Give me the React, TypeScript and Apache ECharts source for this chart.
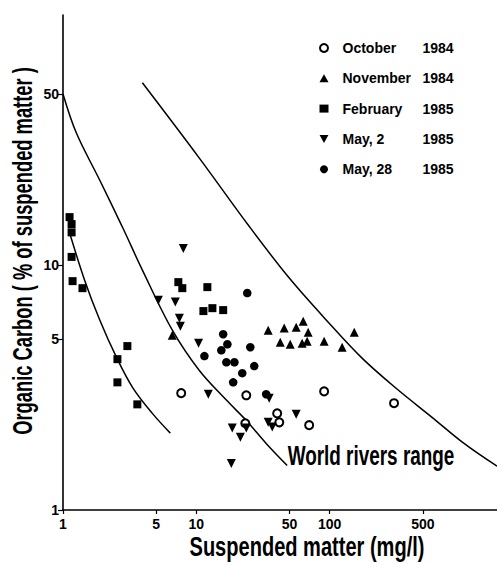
import React, { useEffect, useRef } from "react";
import * as echarts from "echarts";

// Tick labels
const xTickValues = [1, 5, 10, 50, 100, 500];
const yTickValues = [1, 5, 10, 50];

// Series (suspended matter mg/l, organic carbon %)
const october1984 = [[7.7, 3.0], [23.7, 2.94], [23.3, 2.26], [90.9, 3.05], [40.4, 2.48], [41.9, 2.28], [70.2, 2.22], [304, 2.73]];
const november1984 = [[6.6, 5.17], [34.6, 5.42], [45.6, 5.53], [56.1, 5.57], [63.3, 5.9], [69, 5.32], [42.6, 4.84], [50.6, 4.75], [62.2, 4.8], [67.8, 4.89], [90.9, 4.89], [124, 4.62], [153, 5.32]];
const february1985 = [[1.12, 15.7], [1.16, 14.7], [1.16, 13.6], [1.16, 10.8], [1.18, 8.6], [1.4, 8.05], [3.04, 4.67], [2.56, 4.13], [2.56, 3.32], [3.61, 2.7], [7.33, 8.52], [7.85, 8.05], [12.1, 8.13], [11.3, 6.49], [13.2, 6.67], [15.9, 6.55]];
const may2_1985 = [[7.99, 11.7], [5.19, 7.19], [6.96, 7.06], [7.46, 6.07], [7.59, 5.63], [10.4, 4.8], [12.3, 2.97], [18.6, 2.16], [21.4, 1.98], [23.7, 2.16], [18.3, 1.55], [35.2, 2.86], [34.6, 2.28], [37.1, 2.18], [56.1, 2.46]];
const may28_1985 = [[24.1, 7.69], [15.9, 5.22], [17.1, 4.75], [15.4, 4.49], [25.4, 4.62], [11.5, 4.25], [16.8, 4.01], [19.3, 4.01], [27.2, 3.87], [22.1, 3.62], [18.9, 3.32], [33.4, 2.97]];

// World rivers range envelope curves
const curveInner = [[1.1, 14], [1.45, 8.7], [1.88, 6.0], [2.52, 4.2], [3.32, 3.17], [4.68, 2.48], [6.38, 2.06]];
const curveMiddle = [[1, 50], [1.26, 34.6], [1.88, 22.3], [2.79, 14.3], [3.94, 9.54], [6.61, 5.42], [10.5, 3.72], [16.8, 2.81], [23.7, 2.32], [33.4, 1.87], [48, 1.52]];
const curveOuter = [[3.94, 55.5], [10.5, 27.4], [24.9, 14.4], [49.8, 8.85], [99.2, 5.79], [175, 4.17], [315, 3.14], [586, 2.39], [1018, 1.87], [1800, 1.51]];

const seriesNames = ["October 1984", "November 1984", "February 1985", "May, 2 1985", "May, 28 1985"];

const yTitle = "Organic Carbon ( % of suspended matter )";
const xTitle = "Suspended matter (mg/l)";
const rangeLabel = "World rivers range";

const FONT = '"Liberation Sans", Arial, Helvetica, sans-serif';
const TITLE_FONT = 'bold 28px "Liberation Sans", Arial, sans-serif';

function measure(text: string, font: string): number {
  const c = document.createElement("canvas");
  const ctx = c.getContext("2d");
  if (!ctx) return text.length * 14;
  ctx.font = font;
  return ctx.measureText(text).width;
}

export default function App() {
  const ref = useRef<HTMLDivElement>(null);

  useEffect(() => {
    if (!ref.current) return;
    const chart = echarts.init(ref.current, undefined, { renderer: "svg" });

    const sY = 368 / measure(yTitle, TITLE_FONT);
    const sX = 235 / measure(xTitle, TITLE_FONT);
    const sW = 167 / measure(rangeLabel, TITLE_FONT);

    const black = "#000";
    const scatterBase = (name: string, data: number[][], symbol: string, size: number, extra: any = {}) => ({
      name,
      type: "scatter",
      data,
      symbol,
      symbolSize: size,
      itemStyle: { color: black, opacity: 1, ...extra },
      emphasis: { disabled: true },
      z: 3,
    });
    const curve = (data: number[][]) => ({
      type: "line",
      data,
      symbol: "none",
      smooth: 0.35,
      lineStyle: { color: black, width: 1.5 },
      emphasis: { disabled: true },
      silent: true,
      z: 2,
    });

    const labelStyle = { color: black, fontFamily: FONT, fontWeight: "bold", fontSize: 14 };

    chart.setOption({
      animation: false,
      backgroundColor: "#fff",
      grid: { left: 63, right: 0, top: 15, bottom: 55, containLabel: false, outerBoundsMode: "none" },
      xAxis: {
        type: "log",
        logBase: 10,
        min: 1,
        max: 1800,
        axisLine: { show: true, lineStyle: { color: black, width: 1.6 } },
        axisTick: { show: true, inside: false, length: 4, lineStyle: { color: black, width: 1.2 }, customValues: xTickValues },
        axisLabel: { ...labelStyle, margin: 7, customValues: xTickValues, formatter: (v: number) => String(Math.round(v)) },
        splitLine: { show: false },
        minorTick: { show: false },
      },
      yAxis: {
        type: "log",
        logBase: 10,
        min: 1,
        max: 105,
        axisLine: { show: true, lineStyle: { color: black, width: 1.6 } },
        axisTick: { show: true, inside: false, length: 5, lineStyle: { color: black, width: 1.2 }, customValues: yTickValues },
        axisLabel: { ...labelStyle, margin: 4, customValues: yTickValues, formatter: (v: number) => String(Math.round(v)) },
        splitLine: { show: false },
        minorTick: { show: false },
      },
      legend: {
        data: seriesNames,
        orient: "vertical",
        left: 314,
        top: 36,
        itemWidth: 9,
        itemHeight: 8,
        itemGap: 16.3,
        selectedMode: false,
        formatter: (name: string) => {
          const i = name.lastIndexOf(" ");
          return `{n|${name.slice(0, i)}}{y|${name.slice(i + 1)}}`;
        },
        textStyle: {
          color: black,
          rich: {
            n: { width: 80, padding: [0, 0, 0, 9], fontFamily: FONT, fontWeight: "bold", fontSize: 14, lineHeight: 14, color: black },
            y: { fontFamily: FONT, fontWeight: "bold", fontSize: 14, lineHeight: 14, color: black },
          },
        },
      },
      series: [
        scatterBase(seriesNames[0], october1984, "emptyCircle", 8, { borderColor: black, borderWidth: 1.4 }),
        scatterBase(seriesNames[1], november1984, "triangle", 9),
        scatterBase(seriesNames[2], february1985, "rect", 8),
        scatterBase(seriesNames[3], may2_1985, "path://M0,0L10,0L5,9Z", 9),
        scatterBase(seriesNames[4], may28_1985, "circle", 8.5),
        curve(curveInner),
        curve(curveMiddle),
        curve(curveOuter),
      ],
      graphic: [
        {
          type: "text",
          x: 23,
          y: 251,
          rotation: Math.PI / 2,
          scaleX: sY,
          style: { text: yTitle, font: TITLE_FONT, fill: black, align: "center", verticalAlign: "middle", textAlign: "center", textVerticalAlign: "middle" },
        },
        {
          type: "text",
          x: 307,
          y: 546,
          scaleX: sX,
          style: { text: xTitle, font: TITLE_FONT, fill: black, align: "center", verticalAlign: "middle", textAlign: "center", textVerticalAlign: "middle" },
        },
        {
          type: "text",
          x: 371,
          y: 455,
          scaleX: sW,
          style: { text: rangeLabel, font: TITLE_FONT, fill: black, align: "center", verticalAlign: "middle", textAlign: "center", textVerticalAlign: "middle" },
        },
      ],
    });

    return () => chart.dispose();
  }, []);

  return <div ref={ref} style={{ position: "fixed", left: 0, top: 0, width: 497, height: 565, background: "#fff" }} />;
}
